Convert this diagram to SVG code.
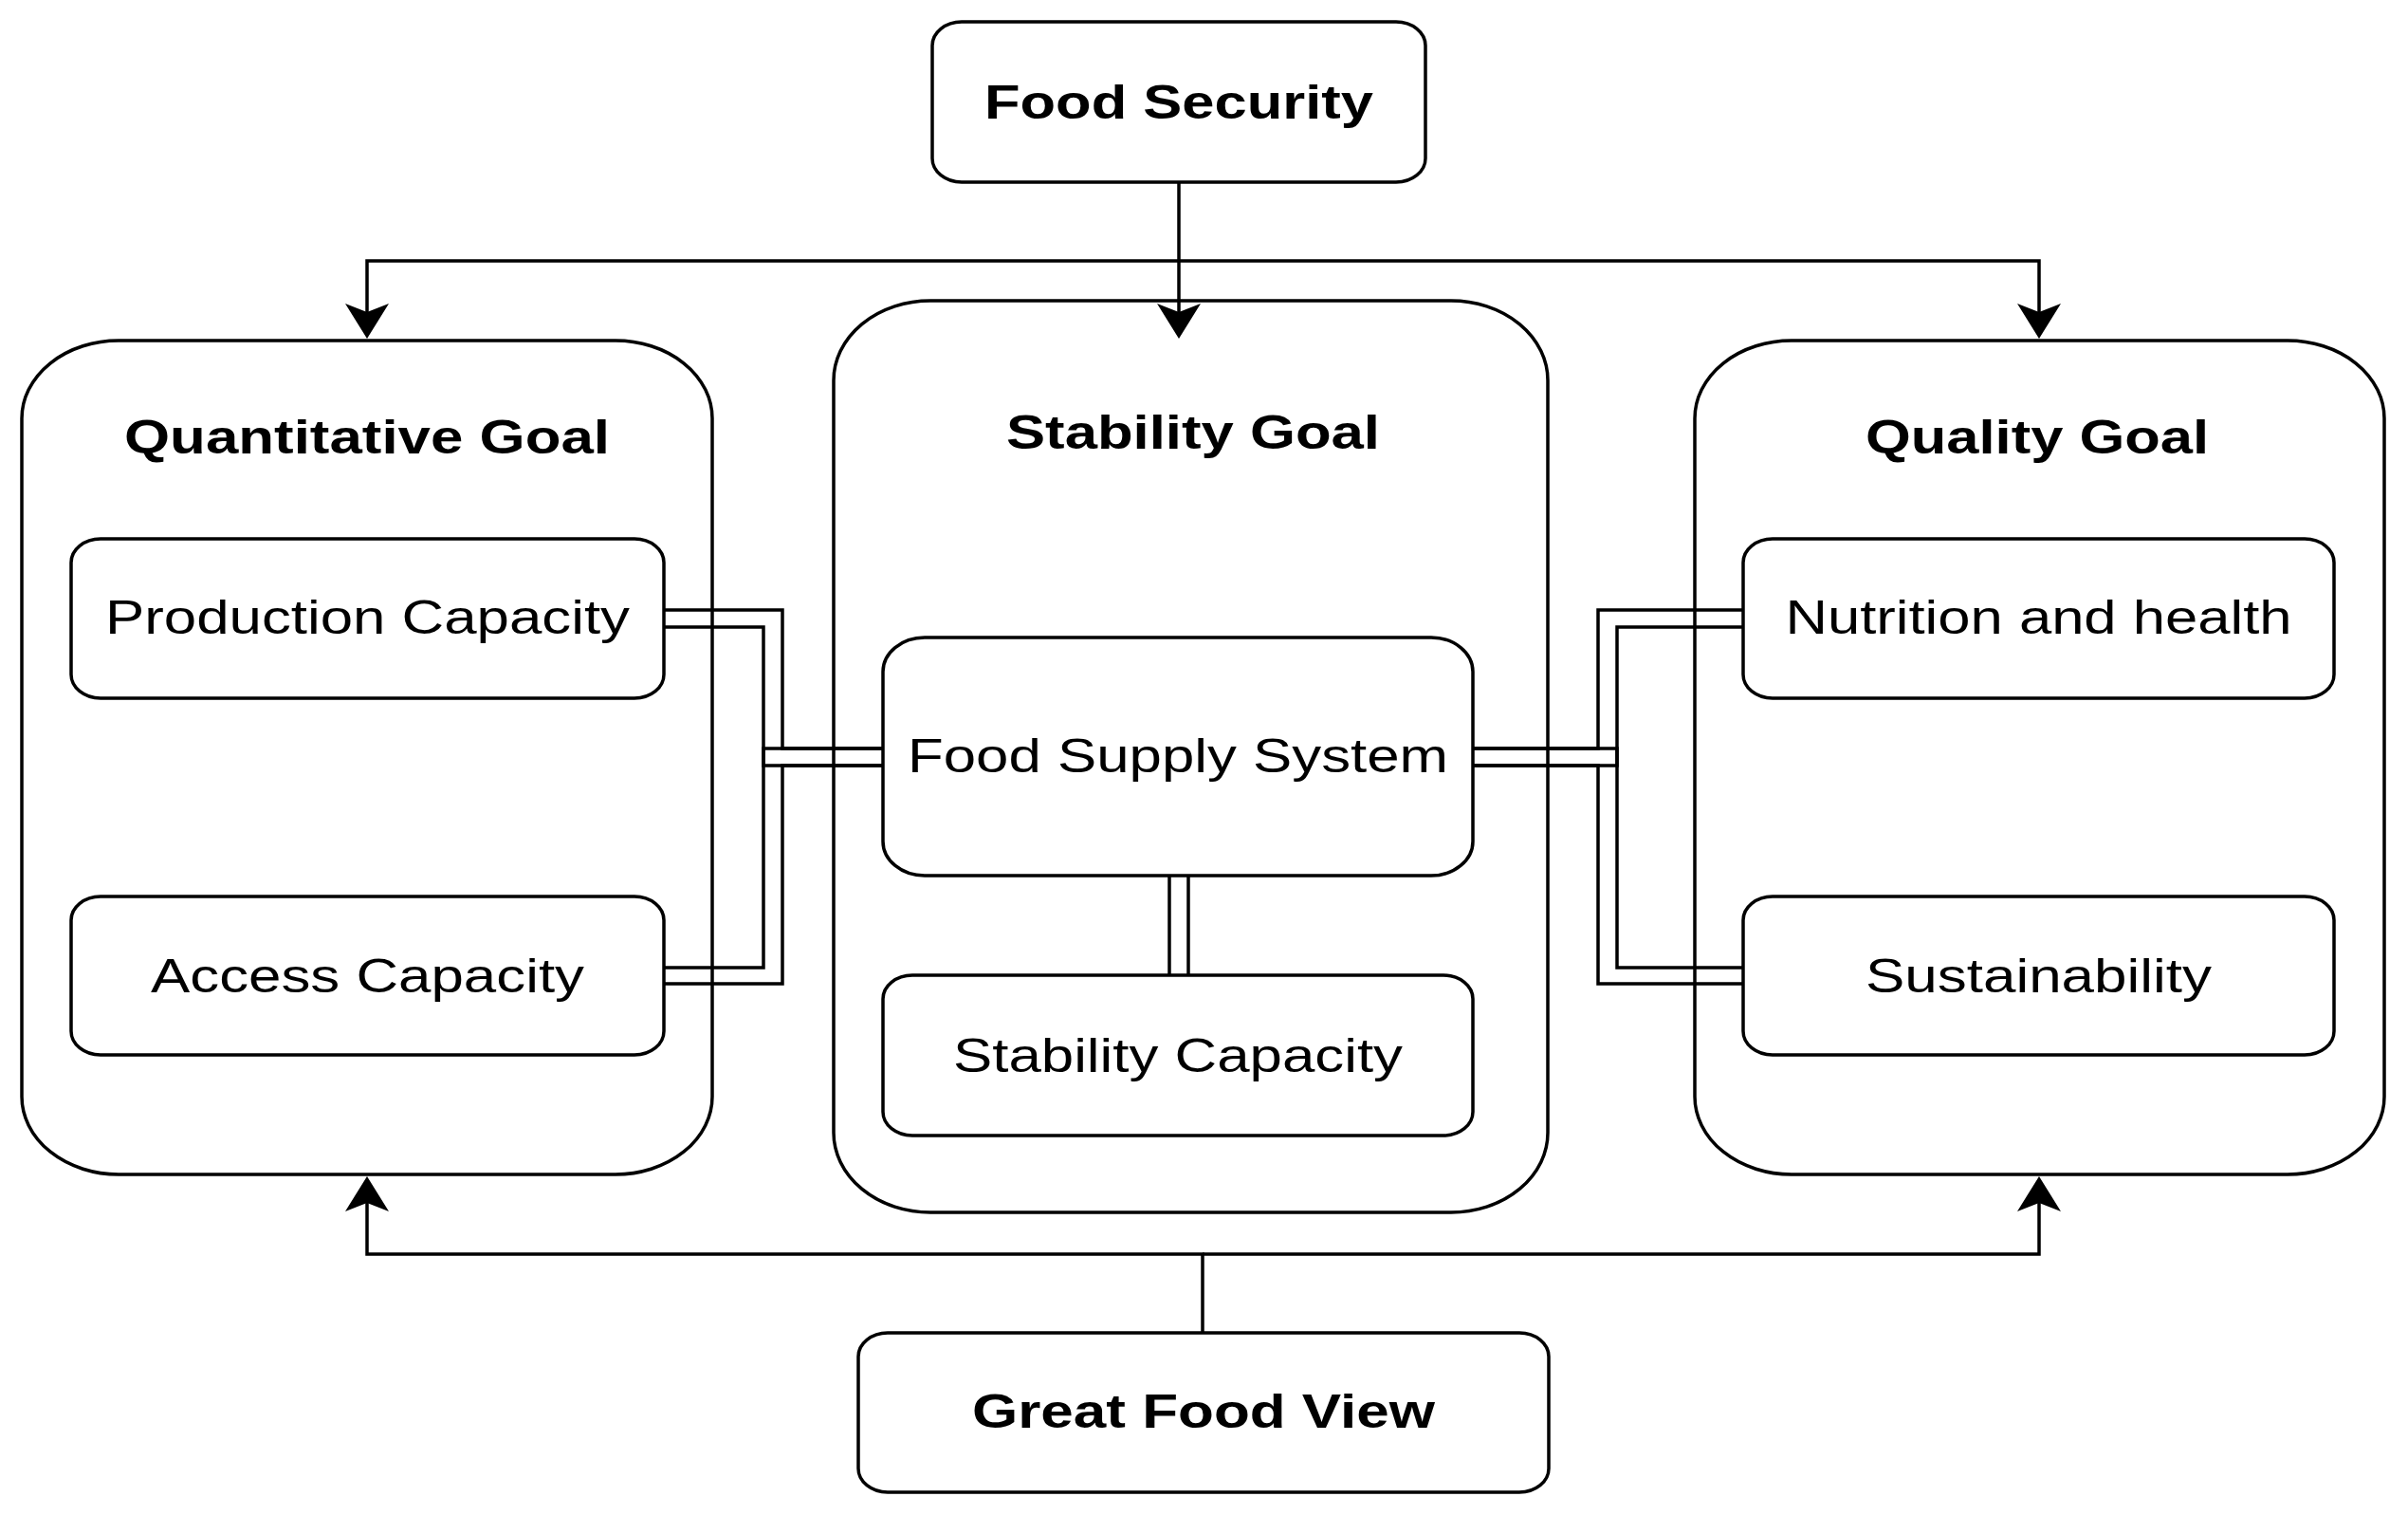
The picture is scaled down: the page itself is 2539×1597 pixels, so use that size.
<svg xmlns="http://www.w3.org/2000/svg" width="2539" height="1597" viewBox="0 0 2539 1597">
<style>
  .box { fill: #ffffff; stroke: #000000; stroke-width: 3.5; }
  .t { font-family: "Liberation Sans", Arial, Helvetica, sans-serif; font-size: 50px; fill: #000000; text-anchor: middle; }
  .b { font-weight: bold; }
  .ln { fill: none; stroke: #000000; stroke-width: 3.5; }
</style>
<defs>
  <marker id="arr" markerUnits="userSpaceOnUse" markerWidth="42" markerHeight="50" viewBox="-40 -25 42 50" refX="-28" refY="0" orient="auto">
    <path d="M0,0 L-37,-23 L-28,0 L-37,23 Z" fill="#000000"/>
  </marker>
</defs>
<rect width="2539" height="1597" fill="#ffffff"/>

<g id="food-security">
  <rect class="box" x="983" y="23" width="520" height="169" rx="31" ry="25"/>
  <text class="t b" x="1243" y="125" textLength="410" lengthAdjust="spacingAndGlyphs">Food Security</text>
</g>

<g id="quantitative-goal">
  <rect class="box" x="23" y="359" width="728" height="879" rx="102" ry="82"/>
  <text class="t b" x="387" y="478" textLength="512" lengthAdjust="spacingAndGlyphs">Quantitative Goal</text>
</g>
<g id="production-capacity">
  <rect class="box" x="75" y="568" width="625" height="168" rx="31" ry="25"/>
  <text class="t" x="387.5" y="668" textLength="553" lengthAdjust="spacingAndGlyphs">Production Capacity</text>
</g>
<g id="access-capacity">
  <rect class="box" x="75" y="945" width="625" height="167" rx="31" ry="25"/>
  <text class="t" x="387.5" y="1046" textLength="457" lengthAdjust="spacingAndGlyphs">Access Capacity</text>
</g>

<g id="stability-goal">
  <rect class="box" x="879" y="317" width="753" height="961" rx="102" ry="84"/>
  <text class="t b" x="1258" y="473" textLength="394" lengthAdjust="spacingAndGlyphs">Stability Goal</text>
</g>
<g id="food-supply-system">
  <rect class="box" x="931" y="672" width="622" height="251" rx="44" ry="36"/>
  <text class="t" x="1242" y="814" textLength="570" lengthAdjust="spacingAndGlyphs">Food Supply System</text>
</g>
<g id="stability-capacity">
  <rect class="box" x="931" y="1028" width="622" height="169" rx="31" ry="25"/>
  <text class="t" x="1242" y="1130" textLength="474" lengthAdjust="spacingAndGlyphs">Stability Capacity</text>
</g>

<g id="quality-goal">
  <rect class="box" x="1787" y="359" width="727" height="879" rx="102" ry="82"/>
  <text class="t b" x="2148" y="478" textLength="362" lengthAdjust="spacingAndGlyphs">Quality Goal</text>
</g>
<g id="nutrition-and-health">
  <rect class="box" x="1838" y="568" width="623" height="168" rx="31" ry="25"/>
  <text class="t" x="2149.5" y="668" textLength="534" lengthAdjust="spacingAndGlyphs">Nutrition and health</text>
</g>
<g id="sustainability">
  <rect class="box" x="1838" y="945" width="623" height="167" rx="31" ry="25"/>
  <text class="t" x="2149.5" y="1046" textLength="365" lengthAdjust="spacingAndGlyphs">Sustainability</text>
</g>

<g id="great-food-view">
  <rect class="box" x="905" y="1405" width="728" height="168" rx="31" ry="25"/>
  <text class="t b" x="1269" y="1505" textLength="488" lengthAdjust="spacingAndGlyphs">Great Food View</text>
</g>

<g id="connectors">
  <!-- Food Security to goals -->
  <path class="ln" d="M1243,192 V329" marker-end="url(#arr)"/>
  <path class="ln" d="M1243,275 H387 V329" marker-end="url(#arr)"/>
  <path class="ln" d="M1243,275 H2150 V329" marker-end="url(#arr)"/>
  <!-- Great Food View to goals -->
  <path class="ln" d="M1268,1405 V1322 H387 V1268" marker-end="url(#arr)"/>
  <path class="ln" d="M1268,1322 H2150 V1268" marker-end="url(#arr)"/>
  <!-- double links left -->
  <path class="ln" d="M700,643 H825 V789 H931"/>
  <path class="ln" d="M700,661 H805 V807 H931"/>
  <path class="ln" d="M700,1020 H805 V789 H931"/>
  <path class="ln" d="M700,1037 H825 V807 H931"/>
  <!-- double links right -->
  <path class="ln" d="M1838,643 H1685 V789 H1553"/>
  <path class="ln" d="M1838,661 H1705 V807 H1553"/>
  <path class="ln" d="M1838,1020 H1705 V789 H1553"/>
  <path class="ln" d="M1838,1037 H1685 V807 H1553"/>
  <!-- double link FSS to Stability Capacity -->
  <path class="ln" d="M1233,923 V1028"/>
  <path class="ln" d="M1253,923 V1028"/>
</g>
</svg>
